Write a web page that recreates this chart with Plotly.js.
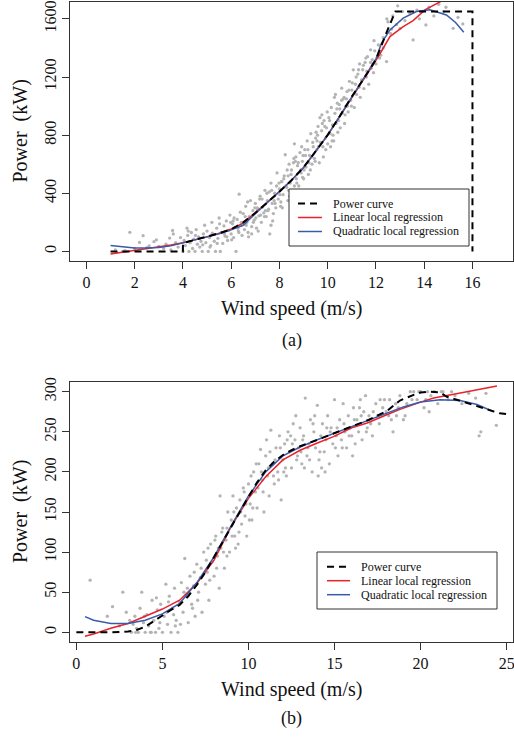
<!DOCTYPE html>
<html><head><meta charset="utf-8">
<script src="https://cdn.plot.ly/plotly-3.0.1.min.js"></script>
<style>html,body{margin:0;padding:0;background:#fff}#c{width:514px;height:740px}</style>
</head><body><div id="c"></div>
<script>
// ---------- Panel (a) data ----------
const windA = [
1.2,1.5,1.6,1.8,2.0,2.2,2.35,2.5,2.6,2.8,
2.9,3.0,3.2,3.3,3.45,3.5,3.57,3.6,3.7,3.8,
3.9,4.0,4.05,4.1,4.17,4.2,4.25,4.3,4.35,4.4,
4.45,4.5,4.55,4.6,4.65,4.7,4.75,4.8,4.85,4.9,
4.95,5.0,5.05,5.1,5.15,5.2,5.25,5.3,5.35,5.4,
5.45,5.5,5.55,5.6,5.65,5.7,5.75,5.8,5.85,5.9,
5.95,6.0,6.05,6.1,6.15,6.2,6.25,6.3,6.33,6.4,
6.45,6.5,6.55,6.6,6.65,6.7,6.75,6.8,6.85,6.9,
6.95,7.0,7.05,7.1,7.15,7.2,7.25,7.3,7.35,7.4,
7.45,7.5,7.55,7.6,7.65,7.7,7.75,7.8,7.85,7.9,
7.95,8.0,8.05,8.1,8.15,8.2,8.24,8.3,8.35,8.4,
8.45,8.5,8.55,8.6,8.62,8.7,8.75,8.8,8.85,8.9,
8.95,9.0,9.05,9.1,9.15,9.2,9.25,9.3,9.35,9.4,
9.45,9.5,9.55,9.6,9.65,9.7,9.75,9.8,9.85,9.9,
9.95,10.0,10.05,10.1,10.15,10.2,10.25,10.3,10.35,10.4,
10.45,10.5,10.58,10.6,10.65,10.7,10.75,10.8,10.85,10.9,
10.95,11.0,11.06,11.1,11.15,11.2,11.25,11.3,11.35,11.4,
11.45,11.5,11.55,11.6,11.65,11.7,11.78,11.8,11.85,11.9,
11.95,12.0,12.1,12.2,12.3,12.44,12.5,12.6,12.7,12.85,
13.0,13.2,13.4,13.54,13.8,14.07,14.2,14.4,14.8,15.2,
15.6,15.4,14.6,13.1,12.45,12.9,13.7,14.9,12.65,12.3,
5.12,5.42,5.72,6.02,6.32,6.62,6.92,7.22,7.52,7.82,
6.08,6.38,6.68,6.98,7.28,7.58,7.88,8.18,8.48,8.78,
8.12,8.42,8.72,9.02,9.32,9.62,9.92,10.22,10.52,10.82,
9.08,9.38,9.68,9.98,10.28,10.58,10.88,11.18,11.48,11.78,
4.22,4.52,4.82,5.22,5.52,5.82,6.12,6.42,6.72,7.02,
7.12,7.42,7.72,8.02,8.32,8.62,8.92,9.22,9.52,9.82,
10.12,10.42,10.72,11.02,11.32,11.62,11.92,12.15,6.85,7.65,
7.08,7.38,7.68,7.98,8.28,8.58,8.88,9.18,9.48,9.78,
10.08,10.38,10.68,10.98,11.28,11.58,11.88,6.58,6.28,5.98,
8.08,8.38,8.68,8.98,9.28,9.58,9.88,10.18,10.48,10.78,
7.18,7.48,7.78,8.06,8.36,8.66,8.96,9.56,9.76,10.32
];
const powerA = [
10,0,5,131,20,62,108,25,38,67,
80,35,20,50,92,10,144,120,60,30,
95,0,75,40,160,110,0,60,130,20,
85,0,150,50,100,30,70,0,120,180,
60,140,0,95,40,200,115,70,0,160,
90,230,0,130,55,175,105,210,75,145,
250,120,190,95,165,0,220,140,394,180,
110,260,150,310,200,130,240,350,170,280,
215,330,160,290,245,380,200,305,265,420,
240,350,290,120,470,330,260,400,300,540,
360,430,310,480,390,520,665,440,350,600,
470,560,420,640,740,500,590,450,680,540,
620,500,700,580,760,530,660,810,600,720,
640,780,700,860,610,750,830,720,900,780,
850,740,920,810,990,870,760,950,880,1020,
900,980,1123,950,1050,880,1000,1100,960,1170,
1040,1110,1249,990,1150,1080,1220,1130,1060,1180,
1250,1120,1300,1200,1340,1150,1387,1260,1320,1230,
1380,1290,1420,1350,1470,1306,1580,1500,1620,1560,
1535,1588,1640,1455,1600,1558,1680,1620,1650,1535,
1565,1610,1700,1650,1600,1690,1660,1680,1530,1400,
30,55,120,80,130,180,200,250,280,330,
210,270,340,300,360,410,450,500,530,610,
300,380,470,560,650,720,700,800,850,1000,
660,750,920,960,1060,1040,1110,1200,1280,1300,
140,110,45,125,190,100,230,200,100,230,
140,280,210,390,560,450,720,610,820,650,
720,820,940,1160,1290,1240,1450,1330,120,180,
300,240,420,470,450,610,560,700,620,880,
900,980,1060,1000,1250,1330,1290,240,160,200,
480,420,650,660,560,800,860,760,1010,1050,
360,400,350,340,520,620,510,760,940,1080
];
const curveAx = [1,2,3,4,4,4.5,5,5.5,6,6.5,7,7.5,8,8.5,9,9.5,10,10.5,11,11.5,12,12.4,12.8,14,16,16];
const curveAy = [0,0,0,0,57,78,100,125,152,200,264,335,410,490,578,688,802,930,1066,1190,1320,1490,1650,1650,1650,0];
const linAx = [1,1.5,2,2.5,3,3.5,4,4.5,5,5.5,6,6.5,7,7.5,8,8.5,9,9.5,10,10.5,11,11.5,12,12.1,12.58,13.13,13.54,14.03,14.8];
const linAy = [-18,-6,6,18,30,44,60,78,100,125,155,195,265,335,410,490,578,688,800,930,1060,1190,1320,1341,1478,1547,1588,1662,1730];
const quadAx = [1,1.5,2,2.4,3,3.5,4,4.5,5,5.5,6,6.5,7,7.5,8,8.5,9,9.5,10,10.5,11,11.5,12,12.23,12.58,13.13,13.68,14.23,14.92,15.3,15.64];
const quadAy = [40,30,24,23,27,38,58,78,100,122,148,180,260,335,410,490,578,688,800,930,1062,1192,1325,1433,1524,1605,1650,1662,1627,1575,1508];

// ---------- Panel (b) data ----------
const windB = [
0.8,1.8,2.1,2.5,2.7,2.9,3.1,3.2,3.3,3.4,
3.5,3.6,3.7,3.8,3.9,4.0,4.1,4.2,4.3,4.4,
4.5,4.6,4.65,4.7,4.8,4.9,5.0,5.1,5.2,5.3,
5.4,5.5,5.6,5.7,5.8,5.9,6.0,6.1,6.2,6.3,
6.4,6.5,6.6,6.7,6.8,6.9,7.0,7.1,7.2,7.3,
7.4,7.5,7.6,7.7,7.8,7.9,8.0,8.1,8.2,8.3,
8.35,8.4,8.5,8.6,8.7,8.8,8.9,9.0,9.1,9.2,
9.3,9.4,9.5,9.6,9.7,9.8,9.9,10.0,10.1,10.2,
10.3,10.4,10.5,10.6,10.7,10.8,10.9,11.0,11.1,11.2,
11.3,11.4,11.5,11.6,11.7,11.8,11.9,12.0,12.1,12.2,
12.3,12.4,12.5,12.6,12.7,12.8,12.9,13.0,13.1,13.2,
13.3,13.4,13.5,13.6,13.7,13.8,13.9,14.0,14.1,14.2,
14.3,14.4,14.5,14.6,14.7,14.8,14.9,15.0,15.1,15.2,
15.3,15.4,15.5,15.6,15.7,15.8,15.9,16.0,16.1,16.2,
16.3,16.4,16.5,16.6,16.7,16.8,16.9,17.0,17.2,17.4,
17.6,17.8,18.0,18.2,18.4,18.6,18.8,19.0,19.2,19.4,
19.6,19.8,20.0,20.2,20.4,20.6,20.8,21.0,21.3,21.6,
21.8,22.0,22.4,22.8,23.2,23.4,23.5,23.8,24.4,20.5,
7.05,7.55,8.05,8.55,9.05,9.55,10.05,10.55,11.05,11.55,
12.05,12.55,13.05,13.55,14.05,14.55,15.05,15.55,16.05,16.55,
5.25,5.75,6.25,6.75,7.25,7.75,8.25,8.75,9.25,9.75,
10.25,10.75,11.25,11.75,12.25,12.75,13.25,13.75,14.25,14.75,
17.1,17.5,17.9,18.3,18.7,19.1,19.5,19.9,20.3,21.2,
8.15,8.45,8.75,9.15,9.45,9.85,10.15,10.45,10.85,11.15,
11.45,11.85,12.15,12.45,12.85,13.15,13.45,13.85,14.15,14.45,
15.15,15.45,15.85,16.15,16.45,16.85,17.25,17.65,18.15,18.55,
3.45,3.95,4.35,4.85,5.35,5.65,6.05,6.45,6.85,7.65
];
const powerB = [
65,20,32,8,50,25,15,0,10,20,
5,0,30,50,12,0,22,8,0,40,
15,0,43,28,5,35,0,20,60,10,
45,0,30,55,15,0,38,62,25,92,
45,12,70,35,58,20,85,50,68,25,
100,60,75,40,110,88,70,120,95,55,
170,105,130,80,115,150,100,140,170,120,
155,110,165,135,180,145,120,185,160,140,
200,175,155,210,228,190,150,220,195,170,
252,210,185,230,200,245,165,215,235,195,
250,225,205,260,240,215,230,255,210,245,
292,220,235,265,200,250,230,283,215,245,
260,225,240,270,210,255,235,290,245,220,
265,240,285,250,230,270,255,245,280,235,
265,250,290,240,275,295,255,270,245,285,
260,280,275,290,250,270,295,265,285,300,
300,290,300,280,300,295,300,285,300,290,
300,295,285,298,292,245,250,298,258,275,
40,90,115,100,120,150,140,180,240,215,
200,235,225,215,195,255,230,260,220,270,
25,8,50,30,80,65,105,130,105,175,
155,200,225,190,240,270,205,260,205,250,
260,270,290,265,280,270,290,300,290,300,
80,125,95,150,125,160,195,210,175,205,
195,230,205,245,220,240,230,270,225,200,
255,230,245,265,280,250,275,290,270,285,
0,20,0,12,38,22,10,55,75,105
];
const curveBx = [0,1,2,3,3.5,4,4.5,5,5.5,6,6.5,7,7.5,8,8.5,9,9.5,10,10.5,11,11.5,12,12.5,13,14,15,16,17,18.05,18.8,19.6,20.0,20.47,21.14,21.5,22.3,23.28,24.6,25];
const curveBy = [0,0,0,1,3,7,14,22,28,34,45,59,75,94,113,132,150,169,187,202,213,221,227,232,240,248,257,265,276,289,296,299,300,299,294,289,282,273,272];
const linBx = [0.5,1,2,3,4,5,6,7,8,9,10,11,12,13,14,14.94,16,16.9,18,18.8,20,20.76,22,23,24.44];
const linBy = [-5,-2,5,11,20,29,40,61,90,132,167,194,215,227,236,244,255,261,271,278,287,292,297,301,307];
const quadBx = [0.5,1,2,3,4,5,6,7,8,9,10,11,12,13,14,15,16,17,18,19,20,21.14,22.3,23.28,24.24];
const quadBy = [19.5,15,11,11,15,23,36,62,94,133,170,200,220,231,240,248,256,264,273,281,287,290,289,284,275];

const ptColor = '#b4b4b4', red = '#e8232b', blue = '#3a5ba8';
const serif = "'Liberation Serif', 'Times New Roman', serif";

function pts(x, y, xa, ya) {
  return {x, y, xaxis: xa, yaxis: ya, type: 'scatter', mode: 'markers',
    marker: {color: ptColor, size: 3.3}, hoverinfo: 'skip', showlegend: false};
}
function ln(x, y, xa, ya, color, width, dash) {
  return {x, y, xaxis: xa, yaxis: ya, type: 'scatter', mode: 'lines',
    line: {color, width, dash: dash || 'solid'}, showlegend: false, hoverinfo: 'skip'};
}

const data = [
  pts(windA, powerA, 'x', 'y'),
  ln(linAx, linAy, 'x', 'y', red, 1.5),
  ln(quadAx, quadAy, 'x', 'y', blue, 1.5),
  ln(curveAx, curveAy, 'x', 'y', '#000', 2, '7px,5px'),
  pts(windB, powerB, 'x2', 'y2'),
  ln(linBx, linBy, 'x2', 'y2', red, 1.5),
  ln(quadBx, quadBy, 'x2', 'y2', blue, 1.5),
  ln(curveBx, curveBy, 'x2', 'y2', '#000', 2, '7px,5px')
];

const W = 514, H = 740;
const PX = v => v / W, PY = v => 1 - v / H;

const axBase = {
  showgrid: false, zeroline: false, showline: true, mirror: true,
  linecolor: '#333', linewidth: 1, ticks: 'outside', ticklen: 7, tickcolor: '#333',
  tickfont: {family: serif, size: 16, color: '#111'}, fixedrange: true,
  ticklabeloverflow: 'allow'
};

const layout = {
  width: W, height: H, margin: {l: 0, r: 0, t: 0, b: 0},
  paper_bgcolor: '#fff', plot_bgcolor: '#fff', showlegend: false,
  font: {family: serif, color: '#111'},
  xaxis: Object.assign({}, axBase, {domain: [PX(70), PX(513)], range: [-0.68, 17.68],
    tickvals: [0,2,4,6,8,10,12,14,16], anchor: 'y'}),
  yaxis: Object.assign({}, axBase, {domain: [PY(261), PY(2)], range: [-66, 1716],
    tickvals: [0,400,800,1200,1600], tickangle: -90, anchor: 'x'}),
  xaxis2: Object.assign({}, axBase, {domain: [PX(70), PX(513)], range: [-0.37, 25.37],
    tickvals: [0,5,10,15,20,25], anchor: 'y2'}),
  yaxis2: Object.assign({}, axBase, {domain: [PY(641.7), PY(382.3)], range: [-11.7, 311.7],
    tickvals: [0,50,100,150,200,250,300], tickangle: -90, anchor: 'x2'}),
  shapes: [],
  annotations: []
};

function txt(x, y, text, size, opts) {
  layout.annotations.push(Object.assign({xref: 'paper', yref: 'paper', x: PX(x), y: PY(y),
    text, showarrow: false, font: {family: serif, size, color: '#111'},
    xanchor: 'center', yanchor: 'middle'}, opts || {}));
}
txt(291.5, 308, 'Wind speed (m/s)', 20);
txt(291.5, 340, '(a)', 18);
txt(20, 131.5, 'Power  (kW)', 20, {textangle: -90});
txt(291.5, 689, 'Wind speed (m/s)', 20);
txt(291.5, 718, '(b)', 18);
txt(20, 512, 'Power  (kW)', 20, {textangle: -90});

const legendLabels = ['Power curve', 'Linear local regression', 'Quadratic local regression'];
const legendStyles = [{color: '#000', width: 2, dash: '7px,5px'}, {color: red, width: 1.5}, {color: blue, width: 1.5}];
function legend(x0, y0, x1, y1, rows, lx0, lx1, tx) {
  layout.shapes.push({type: 'rect', xref: 'paper', yref: 'paper', x0: PX(x0), x1: PX(x1), y0: PY(y1), y1: PY(y0),
    line: {color: '#333', width: 1}, fillcolor: '#fff', layer: 'above'});
  rows.forEach((ry, i) => {
    layout.shapes.push({type: 'line', xref: 'paper', yref: 'paper', x0: PX(lx0), x1: PX(lx1), y0: PY(ry), y1: PY(ry),
      line: legendStyles[i], layer: 'above'});
    txt(tx, ry, legendLabels[i], 12, {xanchor: 'left'});
  });
}
legend(289, 189, 469, 246, [203.5, 217.5, 231.5], 298, 322, 331);
legend(317, 552, 497, 609, [566.7, 580.7, 594.7], 327, 350, 359);

Plotly.newPlot('c', data, layout, {staticPlot: true, displayModeBar: false});
</script></body></html>
